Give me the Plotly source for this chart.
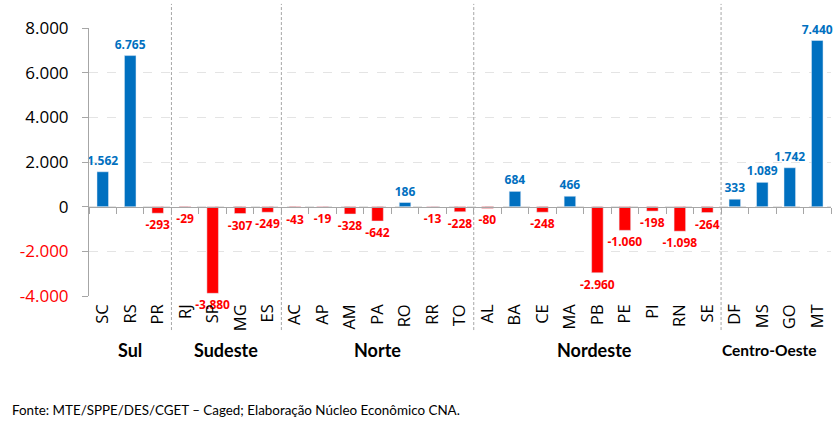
import plotly.graph_objects as go

states = ["SC", "RS", "PR", "RJ", "SP", "MG", "ES", "AC", "AP", "AM", "PA", "RO", "RR", "TO",
          "AL", "BA", "CE", "MA", "PB", "PE", "PI", "RN", "SE", "DF", "MS", "GO", "MT"]
values = [1562, 6765, -293, -29, -3880, -307, -249, -43, -19, -328, -642, 186, -13, -228,
          -80, 684, -248, 466, -2960, -1060, -198, -1098, -264, 333, 1089, 1742, 7440]
regions = ["Sul", "Sudeste", "Norte", "Nordeste", "Centro-Oeste"]
region_sizes = [3, 4, 7, 9, 4]
y_ticks = [-4000, -2000, 0, 2000, 4000, 6000, 8000]
source_text = "Fonte: MTE/SPPE/DES/CGET – Caged; Elaboração Núcleo Econômico CNA."

BLUE = "#0070C0"
RED = "#FF0000"
GRAY = "#A6A6A6"


def fmt(v):
    s = f"{abs(v):,}".replace(",", ".")
    return ("-" if v < 0 else "") + s


colors = [BLUE if v >= 0 else RED for v in values]
labels = [fmt(v) for v in values]

fig = go.Figure()
fig.add_trace(go.Bar(
    x=states, y=values, marker_color=colors, width=0.42,
    text=labels, textposition="outside", cliponaxis=False,
    textfont=dict(family="Open Sans", size=12, color=colors, weight="bold"),
    constraintext="none", hoverinfo="x+y", showlegend=False,
))
# invisible helper trace for the zero-line axis with boundary ticks
fig.add_trace(go.Scatter(
    x=states, y=[0] * len(states), xaxis="x2", mode="markers",
    marker=dict(opacity=0), hoverinfo="skip", showlegend=False,
))

tick_text = []
for t in y_ticks:
    if t < 0:
        tick_text.append(f'<span style="color:{RED}">{fmt(t)}</span>')
    else:
        tick_text.append(fmt(t))

ymin, ymax = y_ticks[0], y_ticks[-1]
zero_pos = (0 - ymin) / (ymax - ymin)
xrange = [-0.5, len(states) - 0.5]

fig.update_layout(
    width=838, height=427,
    margin=dict(l=89, r=7, t=28, b=131),
    paper_bgcolor="white", plot_bgcolor="white",
    font=dict(family="Open Sans", color="black"),
    bargap=0.58,
    xaxis=dict(
        type="category", range=xrange, autorange=False,
        showline=False, ticks="", showgrid=False,
        tickangle=-90, tickfont=dict(family="Open Sans", size=16.5, color="black"),
        ticklabelstandoff=4,
    ),
    xaxis2=dict(
        type="category", matches="x", overlaying="x", anchor="free", position=zero_pos,
        showline=True, linecolor=GRAY, linewidth=1,
        ticks="outside", tickson="boundaries", ticklen=6, tickcolor=GRAY,
        showticklabels=False, showgrid=False,
    ),
    yaxis=dict(
        range=[ymin, ymax], tickvals=y_ticks, ticktext=tick_text,
        showline=True, linecolor=GRAY, linewidth=1,
        ticks="outside", ticklen=6, tickcolor=GRAY,
        showgrid=True, gridcolor="#E4E4E4", griddash="dash",
        zeroline=False, ticklabelstandoff=10,
        tickfont=dict(family="Open Sans", size=17, color="black"),
    ),
)

# dashed separators between regions and region labels
start = 0
for name, size in zip(regions, region_sizes):
    end = start + size
    if end < len(states):
        fig.add_shape(type="line", xref="x", yref="paper",
                      x0=end - 0.5, x1=end - 0.5, y0=-0.127, y1=1.09,
                      line=dict(color=GRAY, width=1, dash="3px,2px"))
    center = (start + end - 1) / 2
    small = name == "Centro-Oeste"
    fig.add_annotation(
        x=center, xref="x", y=-0.20, yref="paper", text=f"<b>{name}</b>",
        showarrow=False, yanchor="middle", xanchor="center",
        xshift=-7 if small else (-3 if name == "Nordeste" else 0),
        font=dict(family="Lato", size=15.5 if small else 18, color="black"),
    )
    start = end

fig.add_annotation(
    x=(10 - 89) / 742, xref="paper", y=-(410 - 296) / 268, yref="paper",
    text=source_text, showarrow=False, xanchor="left", yanchor="middle",
    font=dict(family="Lato", size=13.4, color="black"),
)

fig.write_html("out.html", config={"displayModeBar": False},
               post_script="document.body.style.margin='0';")
